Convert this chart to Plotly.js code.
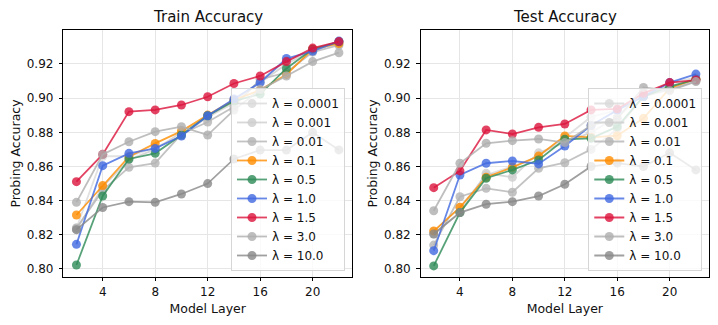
<!DOCTYPE html>
<html>
<head>
<meta charset="utf-8">
<script src="https://cdn.plot.ly/plotly-3.0.1.min.js"></script>
<style>
  body { margin: 0; background: #fff; }
  #chart { width: 718px; height: 325px; }
</style>
</head>
<body>
<div id="chart"></div>
<script>
// model layers on the x axis
let layers = [2, 4, 6, 8, 10, 12, 14, 16, 18, 20, 22];
let lambdas = ['0.0001', '0.001', '0.01', '0.1', '0.5', '1.0', '1.5', '3.0', '10.0'];
let xTicks = [4, 8, 12, 16, 20];
let yTicks = [0.80, 0.82, 0.84, 0.86, 0.88, 0.90, 0.92];

// train accuracy, one array per lambda
let train_0001  = [0.824, 0.866, 0.866, 0.871, 0.878, 0.889, 0.897, 0.910, 0.922, 0.928, 0.933];
let train_001   = [0.823, 0.848, 0.864, 0.870, 0.880, 0.889, 0.898, 0.909, 0.920, 0.928, 0.932];
let train_01    = [0.824, 0.846, 0.8595, 0.862, 0.879, 0.886, 0.895, 0.911, 0.915, 0.927, 0.931];
let train_1     = [0.8316, 0.8488, 0.8657, 0.8735, 0.8807, 0.8901, 0.8989, 0.9047, 0.9139, 0.9287, 0.932];
let train_5     = [0.8023, 0.8427, 0.8644, 0.8677, 0.8784, 0.8897, 0.8983, 0.9024, 0.9174, 0.9287, 0.933];
let train_10    = [0.8144, 0.8605, 0.8677, 0.8706, 0.8778, 0.8897, 0.8995, 0.9092, 0.9232, 0.9275, 0.9334];
let train_15    = [0.8511, 0.8671, 0.8921, 0.8931, 0.8960, 0.9008, 0.9086, 0.9130, 0.9214, 0.9293, 0.9331];
let train_30    = [0.839, 0.867, 0.8745, 0.8804, 0.8833, 0.8784, 0.893, 0.905, 0.913, 0.9214, 0.9266];
let train_100   = [0.823, 0.836, 0.8394, 0.839, 0.8439, 0.850, 0.8644, 0.8696, 0.8696, 0.880, 0.8697];

// test accuracy, one array per lambda
let test_0001   = [0.822, 0.836, 0.855, 0.860, 0.866, 0.877, 0.889, 0.893, 0.901, 0.909, 0.912];
let test_001    = [0.8205, 0.833, 0.856, 0.8537, 0.868, 0.874, 0.880, 0.889, 0.903, 0.907, 0.911];
let test_01     = [0.814, 0.8423, 0.8472, 0.8449, 0.8589, 0.8622, 0.870, 0.882, 0.901, 0.905, 0.910];
let test_1      = [0.8222, 0.8361, 0.8537, 0.8595, 0.8661, 0.8779, 0.877, 0.878, 0.8882, 0.9058, 0.9112];
let test_5      = [0.8018, 0.833, 0.8531, 0.858, 0.8638, 0.8759, 0.8765, 0.8833, 0.901, 0.9067, 0.911];
let test_10     = [0.8107, 0.855, 0.8619, 0.8632, 0.8615, 0.872, 0.884, 0.893, 0.901, 0.9091, 0.9141];
let test_15     = [0.8476, 0.8574, 0.8814, 0.879, 0.8829, 0.8849, 0.8931, 0.8937, 0.9028, 0.9091, 0.9106];
let test_30     = [0.8341, 0.8619, 0.8736, 0.8751, 0.8761, 0.874, 0.884, 0.888, 0.9063, 0.9044, 0.9097];
let test_100    = [0.8205, 0.833, 0.8379, 0.8394, 0.8427, 0.8496, 0.860, 0.862, 0.860, 0.868, 0.858];

let trainSeries = [train_0001, train_001, train_01, train_1, train_5, train_10, train_15, train_30, train_100];
let testSeries = [test_0001, test_001, test_01, test_1, test_5, test_10, test_15, test_30, test_100];

let colors = ['217,217,217', '205,205,205', '180,180,180', '255,140,0', '46,139,87',
              '65,105,225', '220,20,60', '174,174,174', '136,136,136'];

let font = 'DejaVu Sans, sans-serif';

function makeTraces(series, xa, ya, legendName) {
    let traces = [];
    for (let i = 0; i < lambdas.length; i++) {
        traces.push({
            x: layers,
            y: series[i],
            xaxis: xa,
            yaxis: ya,
            legend: legendName,
            mode: 'lines+markers',
            name: 'λ = ' + lambdas[i],
            line: {color: 'rgba(' + colors[i] + ',0.8)', width: 1.8},
            marker: {color: 'rgba(' + colors[i] + ',0.8)', size: 9}
        });
    }
    return traces;
}

function xAxis(domain) {
    return {
        domain: domain,
        range: [1, 23],
        tickvals: xTicks,
        ticks: 'outside', ticklen: 3.5, tickcolor: '#000',
        showline: true, mirror: true, linecolor: '#000', linewidth: 1,
        showgrid: true, gridcolor: '#e6e6e6', zeroline: false,
        tickfont: {size: 12, color: '#111'},
        title: {text: 'Model Layer', font: {size: 12.5, color: '#111'}, standoff: 6},
        automargin: false
    };
}

function yAxis(anchor) {
    return {
        domain: [0.1477, 0.9077],
        anchor: anchor,
        range: [0.7953, 0.9399],
        tickvals: yTicks,
        tickformat: '.2f',
        ticks: 'outside', ticklen: 3.5, tickcolor: '#000',
        ticklabelstandoff: 3,
        showline: true, mirror: true, linecolor: '#000', linewidth: 1,
        showgrid: true, gridcolor: '#e6e6e6', zeroline: false,
        tickfont: {size: 12, color: '#111'},
        title: {text: 'Probing Accuracy', font: {size: 12.5, color: '#111'}, standoff: 3},
        automargin: false
    };
}

function legendBox(xRight) {
    return {
        x: xRight, y: 0.1662, xanchor: 'right', yanchor: 'bottom',
        xref: 'paper', yref: 'paper',
        bgcolor: 'rgba(255,255,255,0.8)',
        bordercolor: '#d6d6d6', borderwidth: 1,
        font: {size: 12, color: '#111'}
    };
}

let data = makeTraces(trainSeries, 'x', 'y', 'legend').concat(makeTraces(testSeries, 'x2', 'y2', 'legend2'));

let layout = {
    width: 718, height: 325,
    margin: {l: 0, r: 0, t: 0, b: 0},
    paper_bgcolor: '#fff', plot_bgcolor: '#fff',
    font: {family: font, color: '#111'},
    xaxis: xAxis([0.0882, 0.4903]),
    yaxis: yAxis('x'),
    xaxis2: Object.assign(xAxis([0.5858, 0.9875]), {anchor: 'y2'}),
    yaxis2: yAxis('x2'),
    legend: legendBox(0.4805),
    legend2: legendBox(0.9781),
    showlegend: true,
    annotations: [
        {text: 'Train Accuracy', x: 0.2892, y: 0.9468, xref: 'paper', yref: 'paper',
         xanchor: 'center', yanchor: 'middle', showarrow: false, font: {size: 15, color: '#111'}},
        {text: 'Test Accuracy', x: 0.7866, y: 0.9468, xref: 'paper', yref: 'paper',
         xanchor: 'center', yanchor: 'middle', showarrow: false, font: {size: 15, color: '#111'}}
    ]
};
layout.xaxis.anchor = 'y';

Plotly.newPlot('chart', data, layout, {displayModeBar: false, staticPlot: true});
</script>
</body>
</html>
